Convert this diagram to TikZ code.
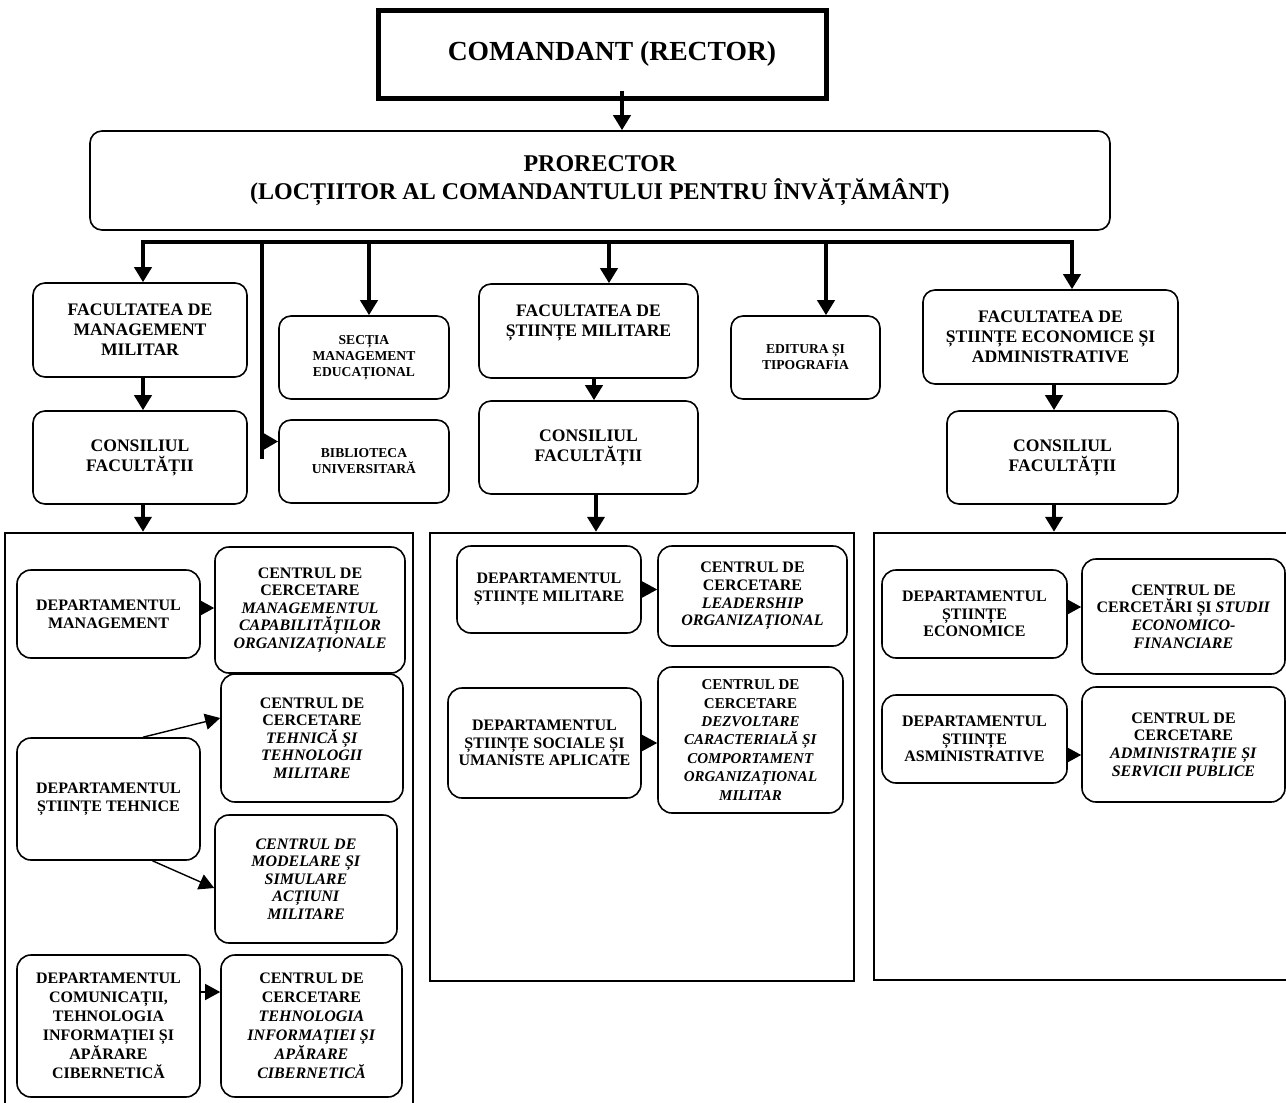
\documentclass[tikz,border=0pt]{standalone}
\usepackage{fontspec}
\setmainfont{Liberation Serif}
\usetikzlibrary{arrows.meta}

\begin{document}
\begin{tikzpicture}[x=0.5pt,y=-0.5pt,
  every node/.style={align=center,inner sep=1pt},
  rbox/.style={draw,line width=0.8pt,rounded corners=6pt},
  facbox/.style={rbox,font=\bfseries\fontsize{8.8}{10}\selectfont},
  minibox/.style={rbox,font=\bfseries\fontsize{6.8}{8}\selectfont},
  deptbox/.style={rbox,rounded corners=7pt,font=\bfseries\fontsize{8}{8.8}\selectfont},
  grpframe/.style={draw,line width=1.2pt},
  bigarrow/.style={line width=2.4pt,-{Triangle[width=8.5pt,length=7.5pt]}},
  busline/.style={line width=2.4pt,line join=miter,{Triangle[width=8.5pt,length=7.5pt]}-{Triangle[width=8.5pt,length=7.5pt]}},
  smallarrow/.style={line width=0.7pt,-{Triangle[width=8pt,length=7.5pt]}}]
\useasboundingbox (0,0) rectangle (1286,1103);

\node[draw,line width=2.5pt,minimum width=224pt,minimum height=44pt,font=\bfseries\fontsize{13.8}{16}\selectfont] at(602,54) (rector) {\hspace*{10pt}COMANDANT (RECTOR)};
\node[rbox,minimum width=510pt,minimum height=49.5pt,font=\bfseries\fontsize{12}{14}\selectfont] at(600,180.5) (prorector) {PRORECTOR\\(LOCȚIITOR AL COMANDANTULUI PENTRU ÎNVĂȚĂMÂNT)};

\node[facbox,minimum width=107pt,minimum height=47pt] at(140,330) (fac1) {FACULTATEA DE\\MANAGEMENT\\MILITAR};
\node[facbox,minimum width=109.5pt,minimum height=47pt] at(588.5,331) (fac2) {FACULTATEA DE\\ȘTIINȚE MILITARE\\\mbox{}};
\node[facbox,minimum width=127.5pt,minimum height=47pt] at(1050.5,337) (fac3) {FACULTATEA DE\\ȘTIINȚE ECONOMICE ȘI\\ADMINISTRATIVE};
\node[facbox,minimum width=107pt,minimum height=46.5pt] at(140,457.5) (cons1) {CONSILIUL\\FACULTĂȚII};
\node[facbox,minimum width=109.5pt,minimum height=46.5pt] at(588.5,447.5) (cons2) {CONSILIUL\\FACULTĂȚII};
\node[facbox,minimum width=115.5pt,minimum height=46.5pt] at(1062.5,457.5) (cons3) {CONSILIUL\\FACULTĂȚII};
\node[minibox,minimum width=85pt,minimum height=41.5pt] at(364,357.5) (sectia) {SECȚIA\\MANAGEMENT\\EDUCAȚIONAL};
\node[minibox,minimum width=85pt,minimum height=41.5pt] at(364,461.5) (biblio) {BIBLIOTECA\\UNIVERSITARĂ};
\node[minibox,minimum width=74.5pt,minimum height=41.5pt] at(805.5,357.5) (editura) {EDITURA ȘI\\TIPOGRAFIA};

\node[grpframe,minimum width=204pt,minimum height=288pt] at(209,821) (grpA) {};
\node[grpframe,minimum width=212pt,minimum height=224pt] at(642,757) (grpB) {};
\node[grpframe,minimum width=209pt,minimum height=223.5pt] at(1083,756.5) (grpC) {};

\node[deptbox,minimum width=91.5pt,minimum height=44pt] at(108.5,614) (dMgmt) {DEPARTAMENTUL\\MANAGEMENT};
\node[deptbox,minimum width=95pt,minimum height=63pt] at(310,610) (cMgmt) {CENTRUL DE\\CERCETARE\\\textit{MANAGEMENTUL}\\\textit{CAPABILITĂȚILOR}\\\textit{ORGANIZAȚIONALE}};
\node[deptbox,minimum width=91pt,minimum height=64pt] at(312,738) (cTeh) {CENTRUL DE\\CERCETARE\\\textit{TEHNICĂ ȘI}\\\textit{TEHNOLOGII}\\\textit{MILITARE}};
\node[deptbox,minimum width=91.5pt,minimum height=61pt] at(108.5,799) (dTeh) {DEPARTAMENTUL\\ȘTIINȚE TEHNICE};
\node[deptbox,minimum width=91pt,minimum height=64pt] at(306,879) (cMod) {\textit{CENTRUL DE}\\\textit{MODELARE ȘI}\\\textit{SIMULARE}\\\textit{ACȚIUNI}\\\textit{MILITARE}};
\node[deptbox,minimum width=91.5pt,minimum height=71pt,font=\bfseries\fontsize{8}{9.5}\selectfont] at(108.5,1026) (dCom) {DEPARTAMENTUL\\COMUNICAȚII,\\TEHNOLOGIA\\INFORMAȚIEI ȘI\\APĂRARE\\CIBERNETICĂ};
\node[deptbox,minimum width=90.5pt,minimum height=71pt,font=\bfseries\fontsize{8}{9.5}\selectfont] at(311.5,1026) (cCom) {CENTRUL DE\\CERCETARE\\\textit{TEHNOLOGIA}\\\textit{INFORMAȚIEI ȘI}\\\textit{APĂRARE}\\\textit{CIBERNETICĂ}};

\node[deptbox,minimum width=92pt,minimum height=43.5pt] at(549,589.5) (dMil) {DEPARTAMENTUL\\ȘTIINȚE MILITARE};
\node[deptbox,minimum width=94.5pt,minimum height=50pt] at(752.5,596) (cLead) {CENTRUL DE\\CERCETARE\\\textit{LEADERSHIP}\\\textit{ORGANIZAȚIONAL}};
\node[deptbox,minimum width=96.5pt,minimum height=55pt] at(544.5,743) (dSoc) {DEPARTAMENTUL\\ȘTIINȚE SOCIALE ȘI\\UMANISTE APLICATE};
\node[deptbox,minimum width=92.5pt,minimum height=73pt,font=\bfseries\fontsize{7.5}{9.2}\selectfont] at(750.5,740) (cDezv) {CENTRUL DE\\CERCETARE\\\textit{DEZVOLTARE}\\\textit{CARACTERIALĂ ȘI}\\\textit{COMPORTAMENT}\\\textit{ORGANIZAȚIONAL}\\\textit{MILITAR}};

\node[deptbox,minimum width=92.5pt,minimum height=44pt] at(974.5,614) (dEco) {DEPARTAMENTUL\\ȘTIINȚE\\ECONOMICE};
\node[deptbox,minimum width=101.5pt,minimum height=57.5pt] at(1183.5,616.5) (cEco) {CENTRUL DE\\CERCETĂRI ȘI \textit{STUDII}\\\textit{ECONOMICO-}\\\textit{FINANCIARE}};
\node[deptbox,minimum width=92.5pt,minimum height=44pt] at(974.5,739) (dAdm) {DEPARTAMENTUL\\ȘTIINȚE\\ASMINISTRATIVE};
\node[deptbox,minimum width=101.5pt,minimum height=57.5pt] at(1183.5,744.5) (cAdm) {CENTRUL DE\\CERCETARE\\\textit{ADMINISTRAȚIE ȘI}\\\textit{SERVICII PUBLICE}};

\coordinate (r0) at ([xshift=10pt,yshift=5pt]rector.south);
\draw[bigarrow] (r0) -- (r0 |- prorector.north);

\coordinate (bus) at (600,242);
\coordinate (f1top) at ([xshift=1.5pt]fac1.north);
\coordinate (f2top) at ([xshift=10.25pt]fac2.north);
\coordinate (f3top) at ([xshift=10.75pt]fac3.north);
\coordinate (s1top) at ([xshift=2.5pt]sectia.north);
\coordinate (e1top) at ([xshift=10.25pt]editura.north);
\draw[busline] (f1top) |- (f3top |- bus) -- (f3top);
\draw[bigarrow] (s1top |- bus) -- (s1top);
\draw[bigarrow] (f2top |- bus) -- (f2top);
\draw[bigarrow] (e1top |- bus) -- (e1top);

\coordinate (libx) at (262,459);
\coordinate (libarr) at ([yshift=10pt]biblio.west);
\draw[line width=2.4pt] (libx |- bus) -- (libx);
\draw[line width=2pt,-{Triangle[width=7.5pt,length=7pt]}] (libx |- libarr) -- (libarr);

\draw[bigarrow] ([xshift=1.5pt]fac1.south) -- ([xshift=1.5pt]cons1.north);
\draw[bigarrow] ([xshift=2.75pt]fac2.south) -- ([xshift=2.75pt]cons2.north);
\draw[bigarrow] ([xshift=1.75pt]fac3.south) -- ([xshift=-4.25pt]cons3.north);

\coordinate (c1b) at ([xshift=1.5pt]cons1.south);
\coordinate (c2b) at ([xshift=3.75pt]cons2.south);
\coordinate (c3b) at ([xshift=-4.25pt]cons3.south);
\draw[bigarrow] (c1b) -- (c1b |- grpA.north);
\draw[bigarrow] (c2b) -- (c2b |- grpB.north);
\draw[bigarrow] (c3b) -- (c3b |- grpC.north);

\coordinate (m1) at ([yshift=3pt]dMgmt.east);
\draw[smallarrow] (m1) -- (m1 -| cMgmt.west);
\draw[smallarrow] ([xshift=17.25pt]dTeh.north) -- ([yshift=10pt]cTeh.west);
\draw[smallarrow] ([xshift=22pt]dTeh.south) -- ([yshift=-4.5pt]cMod.west);
\coordinate (m4) at ([yshift=17pt]dCom.east);
\draw[smallarrow] (m4) -- (m4 -| cCom.west);
\draw[smallarrow] (dMil.east) -- (dMil.east -| cLead.west);
\draw[smallarrow] (dSoc.east) -- (dSoc.east -| cDezv.west);
\coordinate (m7) at ([yshift=3.5pt]dEco.east);
\draw[smallarrow] (m7) -- (m7 -| cEco.west);
\coordinate (m8) at ([yshift=-8pt]dAdm.east);
\draw[smallarrow] (m8) -- (m8 -| cAdm.west);
\end{tikzpicture}
\end{document}
